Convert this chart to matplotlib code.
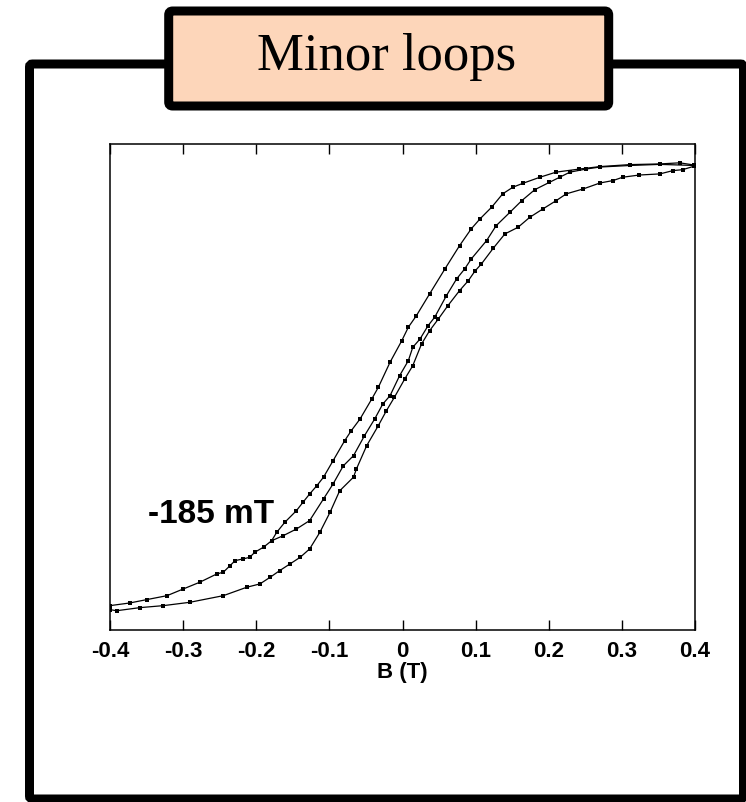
import numpy as np
import matplotlib
matplotlib.use("Agg")
import matplotlib.pyplot as plt
from matplotlib.patches import Rectangle, FancyBboxPatch

# descending branch, +0.4 T down to -0.4 T (normalised magnetisation)
desc_B = [0.399, 0.379, 0.352, 0.311, 0.270, 0.242, 0.210, 0.188, 0.165, 0.151,
          0.137, 0.122, 0.106, 0.094, 0.078, 0.058, 0.037, 0.019, 0.008, -0.001,
          -0.017, -0.033, -0.042, -0.058, -0.070, -0.079, -0.095, -0.108, -0.117, -0.127,
          -0.136, -0.145, -0.161, -0.172, -0.179, -0.190, -0.202, -0.209, -0.218, -0.229,
          -0.236, -0.245, -0.254, -0.277, -0.300, -0.322, -0.350, -0.373, -0.400]
desc_M = [0.995, 1.005, 1.000, 0.997, 0.988, 0.977, 0.963, 0.940, 0.913, 0.895,
          0.865, 0.805, 0.752, 0.707, 0.631, 0.526, 0.413, 0.315, 0.263, 0.202,
          0.105, -0.008, -0.061, -0.151, -0.204, -0.249, -0.340, -0.414, -0.452, -0.490,
          -0.527, -0.565, -0.618, -0.663, -0.701, -0.730, -0.753, -0.776, -0.783, -0.791,
          -0.814, -0.843, -0.851, -0.888, -0.919, -0.949, -0.967, -0.982, -0.994]

# minor loop return branch from -185 mT
minor_B = [-0.179, -0.163, -0.145, -0.127, -0.108, -0.095, -0.081, -0.067, -0.052, -0.038,
           -0.027, -0.017, -0.004, 0.008, 0.014, 0.024, 0.035, 0.044, 0.060, 0.074,
           0.085, 0.094, 0.115, 0.128, 0.147, 0.163, 0.181, 0.201, 0.215, 0.229,
           0.251, 0.270, 0.311, 0.352, 0.399]
minor_M = [-0.701, -0.678, -0.648, -0.610, -0.512, -0.445, -0.363, -0.317, -0.227, -0.151,
           -0.084, -0.046, 0.044, 0.112, 0.172, 0.210, 0.270, 0.308, 0.405, 0.481,
           0.526, 0.571, 0.654, 0.721, 0.782, 0.834, 0.884, 0.917, 0.940, 0.963,
           0.977, 0.986, 0.993, 0.998, 0.993]

# ascending major branch, -0.4 T up to +0.4 T
asc_B = [-0.400, -0.391, -0.359, -0.327, -0.291, -0.245, -0.213, -0.195, -0.181, -0.168,
         -0.154, -0.140, -0.127, -0.113, -0.099, -0.086, -0.067, -0.063, -0.049, -0.033,
         -0.022, -0.011, 0.003, 0.014, 0.026, 0.037, 0.049, 0.062, 0.078, 0.090,
         0.099, 0.108, 0.124, 0.140, 0.158, 0.174, 0.192, 0.210, 0.224, 0.247,
         0.270, 0.288, 0.301, 0.324, 0.352, 0.370, 0.383, 0.399]
asc_M = [-1.012, -1.017, -1.003, -0.994, -0.979, -0.949, -0.911, -0.896, -0.866, -0.836,
         -0.806, -0.776, -0.738, -0.663, -0.572, -0.476, -0.414, -0.377, -0.272, -0.181,
         -0.114, -0.053, 0.029, 0.089, 0.187, 0.247, 0.300, 0.360, 0.428, 0.473,
         0.516, 0.549, 0.619, 0.684, 0.714, 0.759, 0.797, 0.834, 0.865, 0.887,
         0.914, 0.925, 0.940, 0.950, 0.955, 0.970, 0.974, 0.990]

xticks = [-0.4, -0.3, -0.2, -0.1, 0, 0.1, 0.2, 0.3, 0.4]
xticklabels = ["-0.4", "-0.3", "-0.2", "-0.1", "0", "0.1", "0.2", "0.3", "0.4"]

W, H = 746, 803
fig = plt.figure(figsize=(W / 100, H / 100), dpi=100)

# decoration layer in pixel coords
bg = fig.add_axes([0, 0, 1, 1])
bg.set_xlim(0, W)
bg.set_ylim(H, 0)
bg.axis("off")
lw = 9 * 72 / 100
bg.add_patch(FancyBboxPatch((29.5, 65), 714, 735, boxstyle="round,pad=0,rounding_size=3",
                            fill=False, ec="black", lw=lw, zorder=1))
bg.add_patch(FancyBboxPatch((168.7, 12), 440, 95, boxstyle="round,pad=0,rounding_size=4",
                            fc="#FDD6BA", ec="black", lw=lw, zorder=2))
bg.text(387, 57, "Minor loops", family="Liberation Serif", fontsize=38,
        ha="center", va="center", zorder=3)

ax = fig.add_axes([110 / W, 1 - 631 / H, 585 / W, 486 / H])
for b, m in [(desc_B, desc_M), (minor_B, minor_M), (asc_B, asc_M)]:
    ax.plot(b, m, "-", color="black", lw=0.9, marker="s", ms=2.4, mew=0)

ax.set_xlim(-0.4, 0.4)
ax.set_ylim(-1.104, 1.090)
ax.set_xticks(xticks)
ax.set_xticklabels(xticklabels, fontsize=16, fontweight="bold", family="Liberation Sans")
ax.set_yticks([])
ax.tick_params(axis="x", direction="in", top=True, length=7, width=1, pad=7)
for s in ax.spines.values():
    s.set_linewidth(1.1)
ax.set_xlabel("B (T)", fontsize=16, fontweight="bold", family="Liberation Sans", labelpad=0)
ax.text(-0.262, -0.616, "-185 mT", fontsize=24, fontweight="bold", family="Liberation Sans",
        ha="center", va="baseline")

fig.savefig("out.png", dpi=100)
